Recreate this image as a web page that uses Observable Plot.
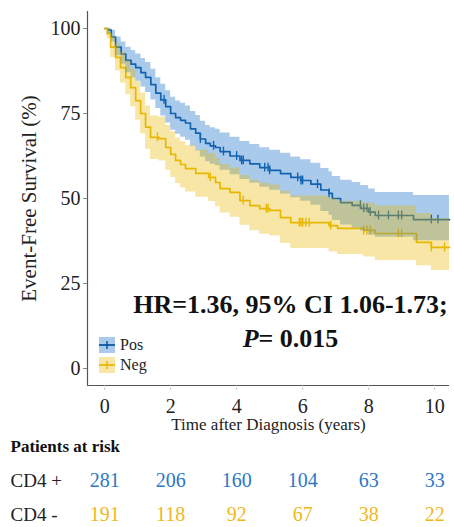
<!DOCTYPE html>
<html>
<head>
<meta charset="utf-8">
<script src="https://cdn.jsdelivr.net/npm/d3@7"></script>
<script src="https://cdn.jsdelivr.net/npm/@observablehq/plot@0.6"></script>
<style>
  html, body { margin: 0; padding: 0; background: #fff; }
  #chart { position: relative; width: 454px; }
  svg { overflow: visible; display: block; }
</style>
</head>
<body>
<div id="chart"></div>
<script>
// ---- Data ----
const groups = ["Pos", "Neg"];
const rowLabels = ["CD4 +", "CD4 -"];

const posT  = [0, 0.1, 0.2, 0.33, 0.5, 0.64, 0.8, 0.94, 1.1, 1.24, 1.4, 1.55, 1.7, 1.85, 2.0, 2.15, 2.3, 2.45, 2.6, 2.76, 2.9, 3.06, 3.2, 3.36, 3.5, 3.8, 4.1, 4.4, 4.7, 5.0, 5.33, 5.64, 5.94, 6.25, 6.55, 6.8, 6.9, 7.15, 7.5, 7.76, 8.0, 8.2, 9.36, 10.45];
const posS  = [100, 99.5, 97.5, 94.5, 92.5, 90.6, 89.5, 88.5, 87, 85.6, 83.5, 81, 79, 77, 75, 73.8, 73, 72.2, 70.5, 69.2, 67.5, 66.2, 65.5, 65, 63.8, 62.5, 61.2, 60.2, 59.1, 58.3, 57.3, 56.2, 55.3, 54.2, 52.5, 51.5, 50, 48.8, 48, 47.1, 46, 45, 43.8, 43.8];
const posLo = [100, 98.5, 96, 92, 89.5, 87, 85.5, 84.5, 82.8, 81.2, 79, 76.5, 74.3, 72.2, 70.1, 68.9, 68, 67.1, 65.4, 64, 62.2, 60.8, 60.1, 59.6, 58.3, 57, 55.6, 54.5, 53.3, 52.4, 51.3, 50.2, 49.2, 48, 46.2, 45.1, 43.5, 42.2, 41.3, 40.4, 39.2, 38.6, 37.6, 37.6];
const posHi = [100, 100, 99.5, 97.5, 96, 94.5, 93.5, 92.5, 91.2, 90, 88, 85.5, 83.6, 81.7, 79.8, 78.7, 78, 77.2, 75.6, 74.4, 72.7, 71.5, 70.8, 70.4, 69.3, 68, 66.8, 65.9, 64.9, 64.2, 63.3, 62.2, 61.4, 60.4, 58.8, 57.9, 56.5, 55.4, 54.7, 53.8, 52.8, 51.8, 50.9, 50.9];
const posCensor = [1.8, 2.9, 3.3, 3.6, 4.0, 4.15, 4.2, 4.85, 4.95, 5.0, 5.85, 5.95, 6.0, 6.45, 6.8, 7.75, 7.85, 7.95, 8.05, 8.3, 8.6, 8.9, 9.0, 9.9, 10.1];

const negT  = [0, 0.08, 0.18, 0.33, 0.48, 0.64, 0.79, 0.94, 1.09, 1.24, 1.39, 1.64, 1.85, 2.0, 2.15, 2.3, 2.45, 2.76, 3.15, 3.36, 3.5, 3.8, 4.1, 4.4, 4.7, 5.0, 5.33, 5.64, 6.8, 7.06, 7.85, 8.2, 9.45, 9.9, 10.45];
const negS  = [100, 98.5, 94.5, 91.5, 88.5, 85.6, 82.6, 78.8, 75, 71, 68, 67.6, 65, 63, 61.2, 60, 58.8, 57.4, 56.2, 54.7, 52.9, 51.8, 49.4, 47.9, 47, 46.5, 44.4, 42.9, 42, 41.2, 40.6, 39.7, 37.1, 35.6, 35.6];
const negLo = [100, 97, 91.5, 87.5, 84, 80.5, 77, 73, 69, 64.5, 61.5, 61, 58.3, 56.2, 54.4, 53.1, 51.9, 50.4, 49.1, 47.6, 45.7, 44.5, 42.1, 40.5, 39.5, 39, 36.8, 35.3, 34.3, 33.5, 32.8, 31.8, 30.2, 28.8, 28.8];
const negHi = [100, 100, 97.5, 95.5, 93, 90.5, 88, 84.5, 81, 77.2, 74.3, 74, 71.5, 69.6, 67.8, 66.7, 65.6, 64.3, 63.2, 61.8, 60, 59, 56.8, 55.4, 54.5, 54, 52.1, 50.7, 49.9, 49.2, 48.6, 47.8, 45.6, 44.1, 44.1];
const negCensor = [1.6, 3.2, 4.2, 4.9, 4.95, 5.9, 5.95, 6.0, 6.1, 6.2, 6.85, 7.85, 7.95, 8.05, 8.9, 9.0, 9.9, 10.3];

const riskTimes = [0, 2, 4, 6, 8, 10];
const riskPos = [281, 206, 160, 104, 63, 33];
const riskNeg = [191, 118, 92, 67, 38, 22];

const xTicks = [0, 2, 4, 6, 8, 10];
const yTicks = [0, 25, 50, 75, 100];

const hrText = "HR=1.36, 95% CI 1.06-1.73;";
const pText = "P= 0.015";
const yLabel = "Event-Free Survival (%)";
const xLabel = "Time after Diagnosis (years)";
const riskTitle = "Patients at risk";

// ---- Build tables ----
const colors = {Pos: "#00529b", Neg: "#e8b800"};
const bandColors = {Pos: "#2b7bd0", Neg: "#e7b800"};
const bandOpacity = {Pos: 0.4, Neg: 0.35};
const textColors = {Pos: "#2b78c5", Neg: "#f0b81c"};
const series = {
  Pos: posT.map((t, i) => ({t, s: posS[i], lo: posLo[i], hi: posHi[i]})),
  Neg: negT.map((t, i) => ({t, s: negS[i], lo: negLo[i], hi: negHi[i]}))
};
function stepAt(T, S, t) { return S[Math.max(0, d3.bisectRight(T, t) - 1)]; }
const censors = {
  Pos: posCensor.map(t => ({t, s: stepAt(posT, posS, t)})),
  Neg: negCensor.map(t => ({t, s: stepAt(negT, negS, t)}))
};

const serif = "Liberation Serif, Times New Roman, serif";
const xDomain = [-0.52, 10.45];

const main = Plot.plot({
  width: 454,
  height: 440,
  marginLeft: 87,
  marginRight: 5,
  marginTop: 11,
  marginBottom: 55,
  style: {fontFamily: serif, background: "white", overflow: "visible"},
  x: {domain: xDomain},
  y: {domain: [-5, 105]},
  marks: [
    // lines first (ribbons are drawn on top, as in survminer)
    ...groups.map(g => Plot.line(series[g], {x: "t", y: "s", curve: "step-after", stroke: colors[g], strokeWidth: 1.7})),
    ...groups.map(g => Plot.ruleX(censors[g], {x: "t", y1: d => d.s - 1.3, y2: d => d.s + 1.3, stroke: colors[g], strokeWidth: 1.4})),
    ...groups.map(g => Plot.areaY(series[g], {x: "t", y1: "lo", y2: "hi", curve: "step-after", fill: bandColors[g], fillOpacity: bandOpacity[g]})),
    // axes
    Plot.ruleX([xDomain[0]], {stroke: "#555", strokeWidth: 1.2}),
    Plot.ruleY([-5], {stroke: "#555", strokeWidth: 1.2}),
    Plot.axisY({ticks: yTicks, tickSize: 4, tickPadding: 3, fontSize: 20, fill: "#222", stroke: "#888", label: null}),
    Plot.axisX({ticks: xTicks, tickSize: 5, tickPadding: 8, fontSize: 20, fill: "#222", stroke: "#aaa", strokeDasharray: "1.5,1.5", label: null}),
    Plot.text([yLabel], {frameAnchor: "left", rotate: -90, dx: -58, textAnchor: "middle", fontSize: 21, fill: "#222"}),
    Plot.text([xLabel], {frameAnchor: "bottom", dy: 44, fontSize: 17, fill: "#222"}),
    Plot.text([hrText], {frameAnchor: "bottom", dx: 22, dy: -73, fontSize: 26, fontWeight: "bold", fill: "#111"}),
    Plot.text([pText], {frameAnchor: "bottom", dx: 22, dy: -39, fontSize: 26, fontWeight: "bold", fill: "#111"})
  ]
});

// Italic P
d3.select(main).selectAll("text").filter(function() { return this.textContent === pText; }).each(function() {
  const el = d3.select(this);
  el.text(null);
  el.append("tspan").attr("font-style", "italic").text(pText.slice(0, 1));
  el.append("tspan").text(pText.slice(1));
});

// Legend inside panel (bottom-left)
const leg = d3.select(main).append("g").attr("font-family", serif).attr("text-anchor", "start");
groups.forEach((g, i) => {
  const y0 = 337 + i * 20;
  leg.append("rect").attr("x", 99).attr("y", y0).attr("width", 16).attr("height", 16)
    .attr("fill", bandColors[g]).attr("fill-opacity", bandOpacity[g]);
  leg.append("line").attr("x1", 99).attr("x2", 115).attr("y1", y0 + 8).attr("y2", y0 + 8)
    .attr("stroke", colors[g]).attr("stroke-width", 1.7);
  leg.append("line").attr("x1", 107).attr("x2", 107).attr("y1", y0 + 4).attr("y2", y0 + 12)
    .attr("stroke", colors[g]).attr("stroke-width", 1.4);
  leg.append("text").attr("x", 120).attr("y", y0 + 13).attr("font-size", 16).attr("fill", "#222").text(g);
});

// Risk table
const riskData = [
  ...riskTimes.map((t, i) => ({t, row: rowLabels[0], n: riskPos[i], g: "Pos"})),
  ...riskTimes.map((t, i) => ({t, row: rowLabels[1], n: riskNeg[i], g: "Neg"}))
];
const risk = Plot.plot({
  width: 454,
  height: 87,
  marginLeft: 87,
  marginRight: 5,
  marginTop: 0,
  marginBottom: 0,
  style: {fontFamily: serif, background: "white", overflow: "visible"},
  x: {domain: xDomain, axis: null},
  y: {type: "point", domain: rowLabels, range: [40, 74], padding: 0, axis: null},
  marks: [
    Plot.text([riskTitle], {frameAnchor: "top-left", dx: -77, dy: -1, textAnchor: "start", fontSize: 17, fontWeight: "bold", fill: "#111"}),
    Plot.text(rowLabels, {y: d => d, frameAnchor: "left", dx: -77, textAnchor: "start", fontSize: 19, fill: "#222"}),
    Plot.text(riskData, {x: "t", y: "row", text: "n", fontSize: 20, fill: d => textColors[d.g]})
  ]
});

document.getElementById("chart").append(main, risk);
</script>
</body>
</html>
